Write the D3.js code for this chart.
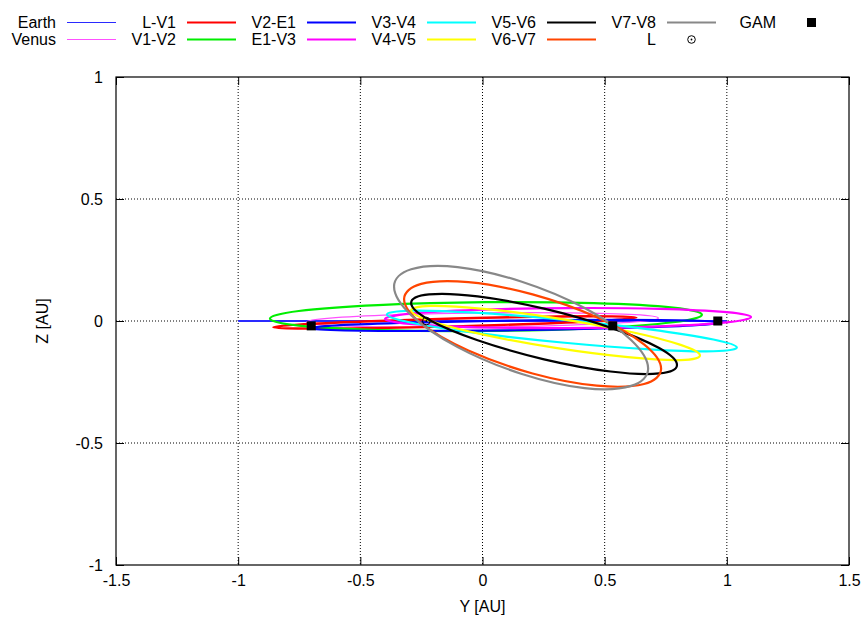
<!DOCTYPE html>
<html><head><meta charset="utf-8">
<script src="https://cdn.jsdelivr.net/npm/d3@7"></script>
<style>
body{margin:0;background:#fff;}
svg{display:block;font-family:"Liberation Sans",Arial,sans-serif;}
</style></head>
<body><svg id="c" width="865" height="619"></svg>
<script>
// ---- data (Y [AU], Z [AU]) ----
const xTicks = [-1.5, -1, -0.5, 0, 0.5, 1, 1.5];
const yTicks = [-1, -0.5, 0, 0.5, 1];

const earth = [[-1.0, 0.0], [1.0, 0.0]];
const venus = [[0.720,0.012],[0.624,0.026],[0.360,0.033],[0.000,0.033],[-0.360,0.025],[-0.624,0.012],[-0.720,-0.004],[-0.624,-0.018],[-0.360,-0.025],[0.000,-0.025],[0.360,-0.017],[0.624,-0.004]];
const lV1 = [[0.630,0.014],[0.530,0.019],[0.259,0.018],[-0.113,0.010],[-0.485,-0.002],[-0.756,-0.015],[-0.856,-0.026],[-0.756,-0.031],[-0.485,-0.030],[-0.113,-0.022],[0.259,-0.010],[0.530,0.003]];
const v1V2 = [[0.898,0.026],[0.780,0.055],[0.456,0.073],[0.014,0.077],[-0.428,0.065],[-0.752,0.041],[-0.870,0.010],[-0.752,-0.019],[-0.428,-0.037],[0.014,-0.041],[0.456,-0.029],[0.780,-0.005]];
const v2E1 = [[0.972,-0.006],[0.860,0.002],[0.553,0.005],[0.133,0.002],[-0.287,-0.007],[-0.594,-0.018],[-0.706,-0.030],[-0.594,-0.038],[-0.287,-0.041],[0.133,-0.038],[0.553,-0.029],[0.860,-0.018]];
const e1V3 = [[1.099,0.016],[0.999,0.036],[0.725,0.050],[0.350,0.053],[-0.025,0.046],[-0.299,0.030],[-0.399,0.008],[-0.299,-0.012],[-0.025,-0.026],[0.350,-0.029],[0.725,-0.022],[0.999,-0.006]];
const v3V4 = [[1.041,-0.109],[0.945,-0.076],[0.683,-0.034],[0.325,0.006],[-0.033,0.034],[-0.295,0.042],[-0.391,0.027],[-0.295,-0.006],[-0.033,-0.048],[0.325,-0.088],[0.683,-0.116],[0.945,-0.124]];
const v4V5 = [[0.890,-0.141],[0.811,-0.098],[0.595,-0.042],[0.299,0.012],[0.004,0.050],[-0.213,0.062],[-0.292,0.043],[-0.213,0.000],[0.004,-0.056],[0.299,-0.110],[0.595,-0.148],[0.811,-0.160]];
const v5V6 = [[0.796,-0.180],[0.723,-0.111],[0.524,-0.027],[0.252,0.051],[-0.020,0.101],[-0.219,0.109],[-0.292,0.074],[-0.219,0.005],[-0.020,-0.079],[0.252,-0.157],[0.524,-0.207],[0.723,-0.215]];
const v6V7 = [[0.731,-0.196],[0.661,-0.096],[0.468,0.015],[0.205,0.109],[-0.058,0.159],[-0.251,0.152],[-0.321,0.090],[-0.251,-0.010],[-0.058,-0.121],[0.205,-0.215],[0.468,-0.265],[0.661,-0.258]];
const v7V8 = [[0.678,-0.195],[0.608,-0.078],[0.418,0.053],[0.158,0.162],[-0.102,0.221],[-0.292,0.212],[-0.362,0.141],[-0.292,0.024],[-0.102,-0.107],[0.158,-0.216],[0.418,-0.275],[0.608,-0.266]];
const gamPts = [[-0.701,-0.020],[0.533,-0.020],[0.963,0.0]];
const launchPt = [[-0.230,0.0]];

const seriesNames = ["Earth","Venus","L-V1","V1-V2","V2-E1","E1-V3","V3-V4","V4-V5","V5-V6","V6-V7","V7-V8"];
const seriesData  = [earth, venus, lV1, v1V2, v2E1, e1V3, v3V4, v4V5, v5V6, v6V7, v7V8];
// ---- styles ----
const seriesColor = ["#2a2aff","#ff50ff","#ff0000","#00ee00","#0000ff","#ff00ff","#00ffff","#ffff00","#000000","#ff4500","#888888"];
const seriesWidth = [2,1.3,2.4,2.2,2.2,2.2,2.2,2.2,2.2,2.2,2.2];
const legendWidth = [1.1,1.1,2.2,2.2,2.2,2.2,2.2,2.2,2.2,2.2,2.2];

const svg = d3.select("#c");
const L=116, R=849, T=77, B=565;
const x = d3.scaleLinear().domain([-1.5,1.5]).range([L,R]);
const y = d3.scaleLinear().domain([-1,1]).range([B,T]);
const FS = 16;

// grid
const g = svg.append("g");
g.selectAll(".gx").data(xTicks.filter(d=>d>-1.5&&d<1.5)).enter().append("line")
  .attr("x1",d=>x(d)).attr("x2",d=>x(d)).attr("y1",T).attr("y2",B)
  .attr("stroke","#000").attr("stroke-width",1).attr("stroke-dasharray","1,2");
g.selectAll(".gy").data(yTicks.filter(d=>d>-1&&d<1)).enter().append("line")
  .attr("y1",d=>y(d)).attr("y2",d=>y(d)).attr("x1",L).attr("x2",R)
  .attr("stroke","#000").attr("stroke-width",1).attr("stroke-dasharray","1,2");

// axes
const fmt = d=>String(d);
const ax = (a)=>a.tickSizeOuter(0);
const bx = svg.append("g").attr("transform",`translate(0,${B})`)
  .call(ax(d3.axisBottom(x).tickValues(xTicks).tickSize(-8).tickPadding(10).tickFormat(fmt)));
const tx = svg.append("g").attr("transform",`translate(0,${T})`)
  .call(ax(d3.axisTop(x).tickValues(xTicks).tickSize(-8).tickFormat("")));
const ly = svg.append("g").attr("transform",`translate(${L},0)`)
  .call(ax(d3.axisLeft(y).tickValues(yTicks).tickSize(-8).tickPadding(13).tickFormat(fmt)));
const ry = svg.append("g").attr("transform",`translate(${R},0)`)
  .call(ax(d3.axisRight(y).tickValues(yTicks).tickSize(-8).tickFormat("")));
[bx,tx,ly,ry].forEach(a=>{
  a.select(".domain").remove();
  a.selectAll("text").attr("font-size",FS).attr("fill","#000").attr("font-family","Liberation Sans, Arial, sans-serif");
  a.selectAll("line").attr("stroke","#000");
});

// curves
const closedLine = d3.line().x(d=>x(d[0])).y(d=>y(d[1])).curve(d3.curveCatmullRomClosed.alpha(0));
const openLine = d3.line().x(d=>x(d[0])).y(d=>y(d[1]));
seriesData.forEach((data,i)=>{
  svg.append("path").attr("d", i===0 ? openLine(data) : closedLine(data))
    .attr("fill","none").attr("stroke",seriesColor[i]).attr("stroke-width",seriesWidth[i])
    .attr("stroke-linejoin","round");
});

// points
svg.selectAll(".gam").data(gamPts).enter().append("rect")
  .attr("x",d=>x(d[0])-4.5).attr("y",d=>y(d[1])-4.5).attr("width",9).attr("height",9).attr("fill","#000");
function launchSym(sel, cx, cy){
  sel.append("circle").attr("cx",cx).attr("cy",cy).attr("r",3.8).attr("fill","none").attr("stroke","#000").attr("stroke-width",1);
  sel.append("circle").attr("cx",cx).attr("cy",cy).attr("r",0.9).attr("fill","#000");
}
launchPt.forEach(d=>launchSym(svg, x(d[0]), y(d[1])));

// border
svg.append("rect").attr("x",L).attr("y",T).attr("width",R-L).attr("height",B-T)
  .attr("fill","none").attr("stroke","#000").attr("stroke-width",1.2);

// axis titles
svg.append("text").attr("x",(L+R)/2).attr("y",612).attr("text-anchor","middle")
  .attr("font-size",FS).text("Y [AU]");
svg.append("text").attr("transform","translate(48,321) rotate(-90)").attr("text-anchor","middle")
  .attr("font-size",FS).text("Z [AU]");

// legend (column-major, two rows)
const legendNames = seriesNames.concat(["L","GAM"]);
const lg = svg.append("g").attr("font-size",FS);
legendNames.forEach((name,i)=>{
  const col = Math.floor(i/2), row = i%2;
  const tRight = 56 + 120*col, cy = row===0 ? 22.5 : 39.5;
  lg.append("text").attr("x",tRight).attr("y",cy+5.7).attr("text-anchor","end").text(name);
  const x0 = tRight+11, x1 = tRight+60;
  if(i < seriesNames.length){
    lg.append("line").attr("x1",x0).attr("x2",x1).attr("y1",cy).attr("y2",cy)
      .attr("stroke",seriesColor[i]).attr("stroke-width",legendWidth[i]);
  } else if(name==="GAM"){
    lg.append("rect").attr("x",(x0+x1)/2-4.5).attr("y",cy-4.5).attr("width",9).attr("height",9).attr("fill","#000");
  } else {
    launchSym(lg,(x0+x1)/2,cy);
  }
});
</script></body></html>
